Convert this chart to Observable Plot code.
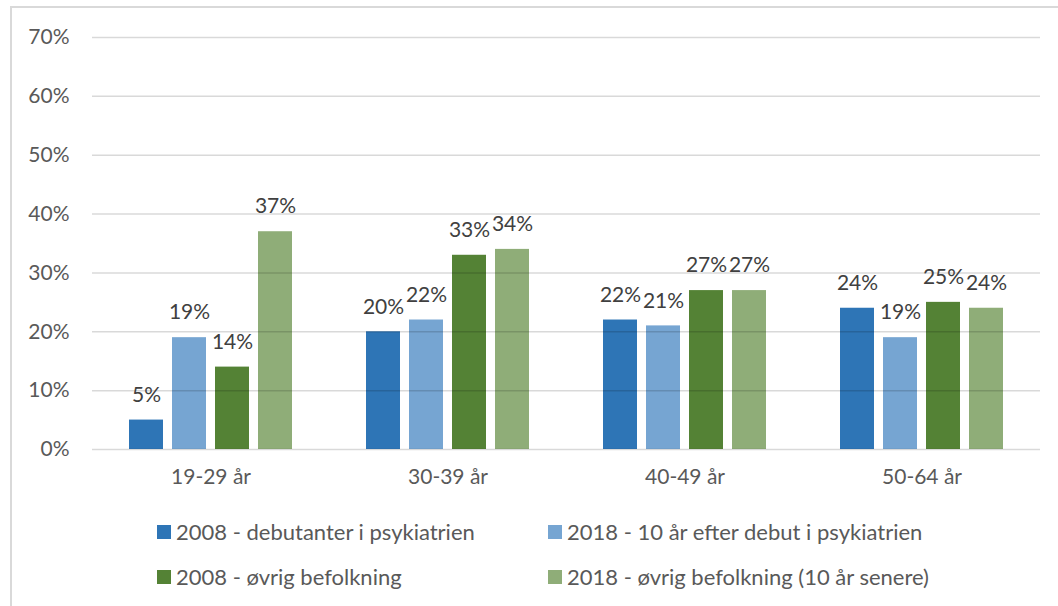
<!DOCTYPE html>
<html>
<head>
<meta charset="utf-8">
<script src="https://cdn.jsdelivr.net/npm/d3@7"></script>
<script src="https://cdn.jsdelivr.net/npm/@observablehq/plot@0.6"></script>
<style>
  html, body { margin: 0; padding: 0; background: #fff; }
  body { width: 1058px; height: 606px; position: relative; overflow: hidden; font-family: Lato, "Open Sans", sans-serif; }
  #frame { position: absolute; left: 10px; top: 6px; width: 1060px; height: 620px; border-left: 2px solid #d9d9d9; border-top: 2px solid #d9d9d9; pointer-events: none; }
  #chart { position: absolute; left: 0; top: 0; }
  #legend { position: absolute; left: 157px; top: 509px; display: grid; grid-template-columns: 391px auto; grid-auto-rows: 45px; align-items: center; font-size: 22px; color: #595959; }
  .item { display: flex; align-items: center; white-space: nowrap; }
  .sw { width: 14px; height: 14px; margin-right: 5px; flex: none; }
</style>
</head>
<body>
<div id="chart"></div>
<div id="legend"></div>
<div id="frame"></div>
<script>
const ageGroups = ["19-29 år", "30-39 år", "40-49 år", "50-64 år"];
const seriesNames = [
  "2008 - debutanter i psykiatrien",
  "2018 - 10 år efter debut i psykiatrien",
  "2008 - øvrig befolkning",
  "2018 - øvrig befolkning (10 år senere)"
];
const seriesColors = ["#2E75B6", "#76A5D2", "#548235", "#8FAD78"];
const debut2008 = [0.05, 0.20, 0.22, 0.24];
const debut2018 = [0.19, 0.22, 0.21, 0.19];
const other2008 = [0.14, 0.33, 0.27, 0.25];
const other2018 = [0.37, 0.34, 0.27, 0.24];
const yTicks = [0, 0.1, 0.2, 0.3, 0.4, 0.5, 0.6, 0.7];

const seriesValues = [debut2008, debut2018, other2008, other2018];
const data = [];
ageGroups.forEach((g, i) => {
  seriesNames.forEach((s, j) => {
    data.push({group: g, series: s, value: seriesValues[j][i]});
  });
});

const fmt = d3.format(".0%");

const chart = Plot.plot({
  width: 1058,
  height: 500,
  marginLeft: 92,
  marginRight: 18,
  marginTop: 37,
  marginBottom: 51,
  style: {fontFamily: "Lato, 'Open Sans', sans-serif", fontSize: "21px", color: "#595959", background: "transparent"},
  fx: {domain: ageGroups, padding: 0, axis: "bottom", label: null, tickSize: 0, tickPadding: 20},
  x: {domain: seriesNames, axis: null, paddingInner: 0.21, paddingOuter: 0.86},
  y: {domain: [0, 0.7], ticks: yTicks, tickFormat: fmt, tickSize: 0, tickPadding: 23, label: null},
  color: {domain: seriesNames, range: seriesColors},
  marks: [
    Plot.barY(data, {fx: "group", x: "series", y: "value", fill: "series"}),
    Plot.ruleY(yTicks, {stroke: "#000", strokeOpacity: 0.15, strokeWidth: 1.5}),
    Plot.text(data, {fx: "group", x: "series", y: "value", text: d => fmt(d.value), dy: -25, fill: "#404040", fontSize: 21})
  ]
});
document.getElementById("chart").appendChild(chart);

const legend = document.getElementById("legend");
[0, 1, 2, 3].forEach(j => {
  const it = document.createElement("div");
  it.className = "item";
  const sw = document.createElement("span");
  sw.className = "sw";
  sw.style.background = seriesColors[j];
  const tx = document.createElement("span");
  tx.textContent = seriesNames[j];
  it.appendChild(sw);
  it.appendChild(tx);
  legend.appendChild(it);
});
</script>
</body>
</html>
